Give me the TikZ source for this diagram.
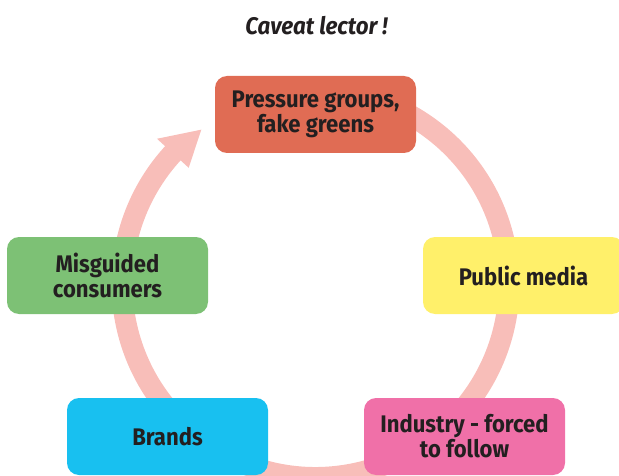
\documentclass[tikz,border=0pt]{standalone}
\usepackage{fontspec}
\setmainfont{Fira Sans}[FakeStretch=0.92]
\newfontfamily\titlefont{Fira Sans}[FakeStretch=0.93]
\definecolor{ringc}{RGB}{248,190,185}
\definecolor{cpg}{RGB}{224,108,84}
\definecolor{cpm}{RGB}{255,240,106}
\definecolor{cind}{RGB}{240,112,168}
\definecolor{cbr}{RGB}{24,192,240}
\definecolor{cmc}{RGB}{125,193,117}
\definecolor{txt}{RGB}{35,31,32}
\tikzset{
  box/.style={rounded corners=12pt, minimum width=201pt, minimum height=77pt,
    inner sep=0pt, align=center, text=txt,
    font=\fontsize{24}{25}\selectfont\bfseries},
  ring/.style={draw=ringc, line width=21pt},
}
\begin{document}
\begin{tikzpicture}[x=1pt,y=1pt]
\useasboundingbox (0,0) rectangle (619,475);
\clip (0,0) rectangle (619,475);
\coordinate (C) at (315.5,191);
% ring with arrow
\draw[ring] ([shift={(C)}]100:193.5pt) arc[start angle=100, end angle=-223.5, radius=193.5pt];
\fill[ringc] ([shift={(C)}]137.5:215pt) -- ([shift={(C)}]126.5:192pt) -- ([shift={(C)}]137.5:172pt) -- cycle;
% boxes
\node[box, fill=cpg] (pg) at (315.5,360.5) {Pressure groups,\\fake greens};
\node[box, fill=cpm] (pm) at (523.5,199.5) {Public media};
\node[box, fill=cind] (ind) at (464.5,38.5) {Industry - forced\\to follow};
\node[box, fill=cbr] (br) at (167.5,38.5) {Brands};
\node[box, fill=cmc] (mc) at (107.5,199.5) {Misguided\\consumers};
% title
\node[anchor=base, text=txt, inner sep=0pt, font=\titlefont\fontsize{24}{25}\selectfont\bfseries\itshape] (title) at (316.5,440) {Caveat lector !};
\end{tikzpicture}
\end{document}
